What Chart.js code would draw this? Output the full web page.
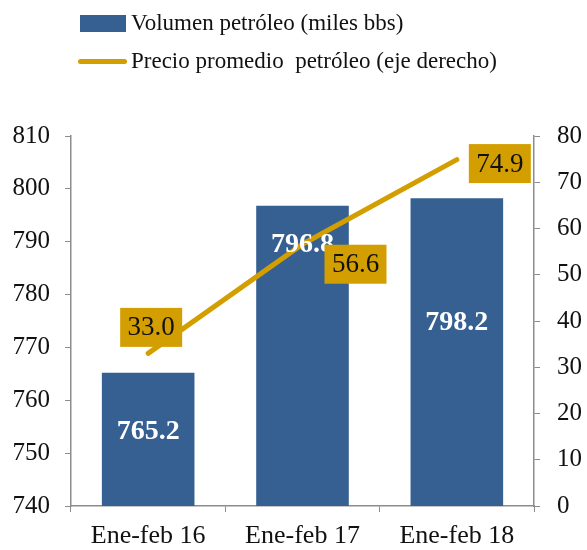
<!DOCTYPE html>
<html>
<head>
<meta charset="utf-8">
<script src="https://cdn.jsdelivr.net/npm/chart.js@4/dist/chart.umd.min.js"></script>
<style>
  html, body { margin: 0; padding: 0; background: #fff; }
  #wrap { position: relative; width: 587px; height: 550px; }
  #legend { position: absolute; left: 78px; top: 4px; font-family: "Liberation Serif", serif; font-size: 23px; color: #111; }
  .item { display: flex; align-items: center; height: 38px; }
  .swatch-bar { width: 46px; height: 17px; background: #366092; margin: 0 5px 0 2px; }
  .swatch-line { width: 49px; height: 5px; border-radius: 3px; background: #d39e00; margin-right: 4px; }
</style>
</head>
<body>
<div id="wrap">
  <canvas id="chart" width="587" height="550"></canvas>
  <div id="legend">
    <div class="item"><span class="swatch-bar"></span>Volumen petróleo (miles bbs)</div>
    <div class="item"><span class="swatch-line"></span>Precio promedio&nbsp; petróleo (eje derecho)</div>
  </div>
</div>
<script>
const categories = ['Ene-feb 16', 'Ene-feb 17', 'Ene-feb 18'];
const volumen = [765.2, 796.8, 798.2];
const precio = [33.0, 56.6, 74.9];
const leftTicks = [740, 750, 760, 770, 780, 790, 800, 810];
const rightTicks = [0, 10, 20, 30, 40, 50, 60, 70, 80];

const FONT = '"Liberation Serif", serif';
const BLUE = '#366092';
const GOLD = '#d39e00';
const AXIS = '#8c8c8c';

// hand placed labels, offsets in pixels
const barLabelDrop = [59, 39, 124];
const lineLabelShift = [[3, -26], [53, 20], [43, 4]];

const labelPlugin = {
    id: 'valueLabels',
    afterDatasetsDraw(chart) {
        const ctx = chart.ctx;
        ctx.save();
        ctx.textAlign = 'center';
        ctx.textBaseline = 'middle';

        const bars = chart.getDatasetMeta(0).data;
        ctx.font = 'bold 28px ' + FONT;
        ctx.fillStyle = '#ffffff';
        bars.forEach((bar, i) => {
            ctx.fillText(volumen[i].toFixed(1), bar.x, bar.y + barLabelDrop[i]);
        });

        const pts = chart.getDatasetMeta(1).data;
        ctx.font = '27px ' + FONT;
        pts.forEach((pt, i) => {
            const cx = pt.x + lineLabelShift[i][0];
            const cy = pt.y + lineLabelShift[i][1];
            ctx.fillStyle = GOLD;
            ctx.fillRect(cx - 31, cy - 19.5, 62, 39);
            ctx.fillStyle = '#111111';
            ctx.fillText(precio[i].toFixed(1), cx, cy + 1);
        });
        ctx.restore();
    }
};

new Chart(document.getElementById('chart'), {
    type: 'bar',
    data: {
        labels: categories,
        datasets: [
            {
                type: 'bar',
                label: 'Volumen petróleo (miles bbs)',
                data: volumen,
                backgroundColor: BLUE,
                yAxisID: 'y',
                barPercentage: 1,
                categoryPercentage: 0.6,
                order: 2
            },
            {
                type: 'line',
                label: 'Precio promedio  petróleo (eje derecho)',
                data: precio,
                borderColor: GOLD,
                borderWidth: 5,
                borderCapStyle: 'round',
                pointRadius: 0,
                tension: 0,
                yAxisID: 'y1',
                order: 1
            }
        ]
    },
    options: {
        responsive: false,
        animation: false,
        layout: { padding: { top: 136, left: 0, right: 0, bottom: 0 } },
        plugins: {
            legend: { display: false },
            tooltip: { enabled: false }
        },
        scales: {
            x: {
                grid: { display: true, drawOnChartArea: false, drawTicks: true, tickLength: 6, color: AXIS, offset: true },
                border: { color: AXIS, width: 1.5 },
                ticks: { color: '#111', font: { family: FONT, size: 26 }, padding: 9 },
                afterFit(s) { s.height = 44; }
            },
            y: {
                position: 'left',
                min: 740, max: 810,
                afterBuildTicks(s) { s.ticks = leftTicks.map(v => ({ value: v })); },
                grid: { display: true, drawOnChartArea: false, drawTicks: true, tickLength: 6, color: AXIS },
                border: { color: AXIS, width: 1.5 },
                ticks: { color: '#111', font: { family: FONT, size: 25 }, padding: 15 },
                afterFit(s) { s.width = 71; }
            },
            y1: {
                position: 'right',
                min: 0, max: 80,
                afterBuildTicks(s) { s.ticks = rightTicks.map(v => ({ value: v })); },
                grid: { display: true, drawOnChartArea: false, drawTicks: true, tickLength: 6, color: AXIS },
                border: { color: AXIS, width: 1.5 },
                ticks: { color: '#111', font: { family: FONT, size: 25 }, padding: 17 },
                afterFit(s) { s.width = 53; }
            }
        }
    },
    plugins: [labelPlugin]
});
</script>
</body>
</html>
